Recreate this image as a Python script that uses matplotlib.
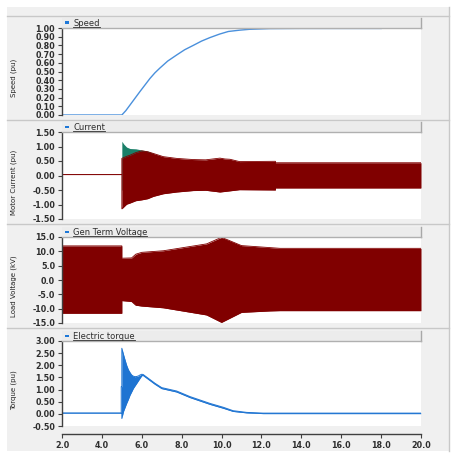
import matplotlib
matplotlib.use('Agg')
import matplotlib.pyplot as plt
from matplotlib.patches import Rectangle
from matplotlib.lines import Line2D

# ---------------- data ----------------
speed_t = [2.0, 5.0, 5.2, 5.41, 5.91, 6.41, 6.66, 6.91, 7.3, 7.75, 8.15, 8.58, 9.0, 9.42, 9.9, 10.34, 10.9, 11.4, 12.4, 14.0, 18.0]
speed_v = [0.0, 0.0, 0.05, 0.115, 0.27, 0.42, 0.485, 0.54, 0.62, 0.69, 0.75, 0.80, 0.85, 0.89, 0.93, 0.96, 0.975, 0.985, 0.993, 0.995, 0.995]

cur_t = [2.0, 5.0, 5.0, 5.24, 5.41, 5.7, 6.0, 6.3, 6.58, 7.08, 7.75, 8.58, 9.2, 9.92, 10.17, 10.42, 10.9, 12.7, 12.7, 20.0]
cur_upper = [0.03, 0.03, 0.59, 0.66, 0.70, 0.79, 0.85, 0.82, 0.76, 0.65, 0.59, 0.55, 0.54, 0.60, 0.57, 0.56, 0.48, 0.49, 0.44, 0.44]
cur_lower = [0.03, 0.03, -1.15, -0.99, -0.95, -0.87, -0.84, -0.80, -0.72, -0.63, -0.57, -0.52, -0.51, -0.57, -0.55, -0.53, -0.49, -0.50, -0.43, -0.43]
cur2_t = [5.0, 5.1, 5.24, 5.41, 5.7, 6.0, 6.3, 6.6]
cur2_upper = [1.18, 1.08, 0.98, 0.93, 0.92, 0.88, 0.84, 0.76]

volt_t = [2.0, 5.0, 5.0, 5.49, 5.7, 6.0, 7.08, 9.25, 10.0, 11.0, 12.43, 12.93, 20.0]
volt_upper = [11.9, 11.9, 7.6, 7.7, 9.0, 9.65, 10.2, 12.6, 14.9, 12.0, 11.3, 11.05, 11.05]
volt_lower = [-11.6, -11.6, -7.2, -7.5, -8.8, -9.1, -9.7, -12.2, -14.8, -11.3, -10.8, -10.7, -10.7]

torq_t = [2.0, 4.97, 4.97, 5.0, 5.0, 5.08, 5.16, 5.24, 5.33, 5.41, 5.49, 5.58, 5.66, 5.75, 5.83, 5.91, 6.0, 6.07, 6.66, 7.0, 7.75, 8.42, 9.42, 10.09, 10.58, 11.26, 12.09, 14.0, 20.0]
torq_upper = [0.03, 0.03, 1.12, 1.12, 2.70, 2.45, 2.22, 2.00, 1.81, 1.70, 1.60, 1.55, 1.53, 1.54, 1.56, 1.60, 1.63, 1.62, 1.26, 1.08, 0.94, 0.71, 0.43, 0.27, 0.13, 0.06, 0.03, 0.03, 0.03]
torq_lower = [0.03, 0.03, 0.03, 0.03, -0.19, 0.09, 0.26, 0.43, 0.60, 0.77, 0.90, 1.05, 1.15, 1.26, 1.36, 1.46, 1.57, 1.58, 1.22, 1.04, 0.90, 0.67, 0.39, 0.23, 0.10, 0.04, 0.01, 0.01, 0.01]

x_ticks = [2.0, 4.0, 6.0, 8.0, 10.0, 12.0, 14.0, 16.0, 18.0, 20.0]
speed_ticks = [0.0, 0.1, 0.2, 0.3, 0.4, 0.5, 0.6, 0.7, 0.8, 0.9, 1.0]
cur_ticks = [-1.5, -1.0, -0.5, 0.0, 0.5, 1.0, 1.5]
volt_ticks = [-15.0, -10.0, -5.0, 0.0, 5.0, 10.0, 15.0]
torq_ticks = [-0.5, 0.0, 0.5, 1.0, 1.5, 2.0, 2.5, 3.0]

titles = ["Speed", "Current", "Gen Term Voltage", "Electric torque"]
ylabels = ["Speed (pu)", "Motor Current (pu)", "Load Voltage (kV)", "Torque (pu)"]

# ---------------- layout ----------------
W, H = 453, 457
fig = plt.figure(figsize=(W / 100, H / 100), dpi=100)
fig.patch.set_facecolor('white')

def fx(x):
    return x / W

def fy(y):
    return 1 - y / H

def add_rect(x0, y0, x1, y1, fc, z=0):
    r = Rectangle((fx(x0), fy(y1)), fx(x1) - fx(x0), fy(y0) - fy(y1),
                  transform=fig.transFigure, facecolor=fc, edgecolor='none', zorder=z)
    fig.add_artist(r)

def add_line(xs, ys, color, lw=1.0, z=1):
    fig.add_artist(Line2D([fx(v) for v in xs], [fy(v) for v in ys],
                          transform=fig.transFigure, color=color, lw=lw, zorder=z))

BG = '#f0f0f0'
SEP = '#c8c8c8'
add_rect(7, 7, 448.5, 451, BG, 0)
add_line([448.5, 448.5], [7, 451], SEP, 1.0)
for ys in [16, 120, 224, 328]:
    add_line([7, 448.5], [ys, ys], SEP, 1.0)

L, R = 62, 421
panels = [  # (tab_top, plot_top, plot_bottom)
    (18, 28, 115),
    (122, 132, 219),
    (227, 237, 323),
    (331, 341, 426),
]

AX_COL = '#404040'
TXT_COL = '#2e2e2e'
RED = '#800000'
GREEN = '#1a7f68'
BLUE_S = '#4a90dc'
BLUE_T = '#1e74d2'

axes = []
title_texts = []
for i, (tt, pt, pb) in enumerate(panels):
    ax = fig.add_axes([fx(L), fy(pb), fx(R) - fx(L), (pb - pt) / H])
    ax.set_facecolor('white')
    for s in ['top', 'right', 'bottom']:
        ax.spines[s].set_visible(False)
    ax.spines['left'].set_color(AX_COL)
    ax.spines['left'].set_linewidth(1.0)
    ax.set_xlim(2, 20)
    ax.tick_params(axis='y', direction='out', length=3, width=0.8, color=AX_COL,
                   labelsize=5.8, pad=2, labelcolor=TXT_COL)
    axes.append(ax)
    # tab bar
    add_rect(L, tt, R, pt, '#ececec', 1)
    add_line([R, R], [tt, pt], '#a8a8a8', 1.0, 2)
    add_line([L, R], [pt, pt], '#b0b0b0', 1.0, 2)
    add_rect(64.5, pt - 6.5, 69, pt - 4, '#1e78d8', 3)
    t = fig.text(fx(73), fy(pt - 2.2), titles[i], fontsize=6, ha='left', va='baseline',
                 color=TXT_COL, zorder=3)
    title_texts.append((t, pt))
    fig.text(fx(14), fy((pt + pb) / 2 + 6.5), ylabels[i], rotation=90, ha='center',
             va='center', fontsize=5.0, family='DejaVu Sans', color='#222222')

ax1, ax2, ax3, ax4 = axes

# Speed
ax1.plot(speed_t, speed_v, color=BLUE_S, lw=1.0)
ax1.set_ylim(0, 1.0)
ax1.set_yticks(speed_ticks)
ax1.set_yticklabels([f'{v:.2f}' for v in speed_ticks], fontweight='bold')

# Current
ax2.fill_between(cur2_t, [-0.5] * len(cur2_t), cur2_upper, color=GREEN, lw=0)
ax2.fill_between(cur_t, cur_lower, cur_upper, color=RED, lw=0)
ax2.plot(cur_t, cur_upper, color=RED, lw=0.6)
ax2.plot(cur_t, cur_lower, color=RED, lw=0.6)
ax2.set_ylim(-1.5, 1.5)
ax2.set_yticks(cur_ticks)
ax2.set_yticklabels([f'{v:.2f}' for v in cur_ticks], fontweight='bold')

# Voltage
ax3.fill_between(volt_t, volt_lower, volt_upper, color=RED, lw=0)
ax3.plot(volt_t, volt_upper, color=RED, lw=0.6)
ax3.plot(volt_t, volt_lower, color=RED, lw=0.6)
ax3.set_ylim(-15, 15)
ax3.set_yticks(volt_ticks)
ax3.set_yticklabels([f'{v:.1f}' for v in volt_ticks], fontweight='bold')

# Torque
ax4.fill_between(torq_t, torq_lower, torq_upper, color=BLUE_T, lw=0)
ax4.plot(torq_t, torq_upper, color=BLUE_T, lw=0.7)
ax4.plot(torq_t, torq_lower, color=BLUE_T, lw=0.7)
ax4.set_ylim(-0.5, 3.0)
ax4.set_yticks(torq_ticks)
ax4.set_yticklabels([f'{v:.2f}' for v in torq_ticks], fontweight='bold')

for ax in (ax1, ax2, ax3):
    ax.set_xticks([])
ax4.spines['bottom'].set_visible(True)
ax4.spines['bottom'].set_position(('outward', 6))
ax4.spines['bottom'].set_color(AX_COL)
ax4.spines['bottom'].set_linewidth(1.0)
ax4.set_xticks(x_ticks)
ax4.set_xticklabels([f'{v:.1f}' for v in x_ticks], fontweight='bold')
ax4.tick_params(axis='x', direction='out', length=3, width=0.8, color=AX_COL,
                labelsize=5.8, pad=2, labelcolor=TXT_COL)

# underline titles
fig.canvas.draw()
for t, pt in title_texts:
    bb = t.get_window_extent()
    add_line([bb.x0, bb.x1], [pt - 1.0, pt - 1.0], TXT_COL, 0.6, 3)

fig.savefig('out.png', dpi=100, facecolor='white')
